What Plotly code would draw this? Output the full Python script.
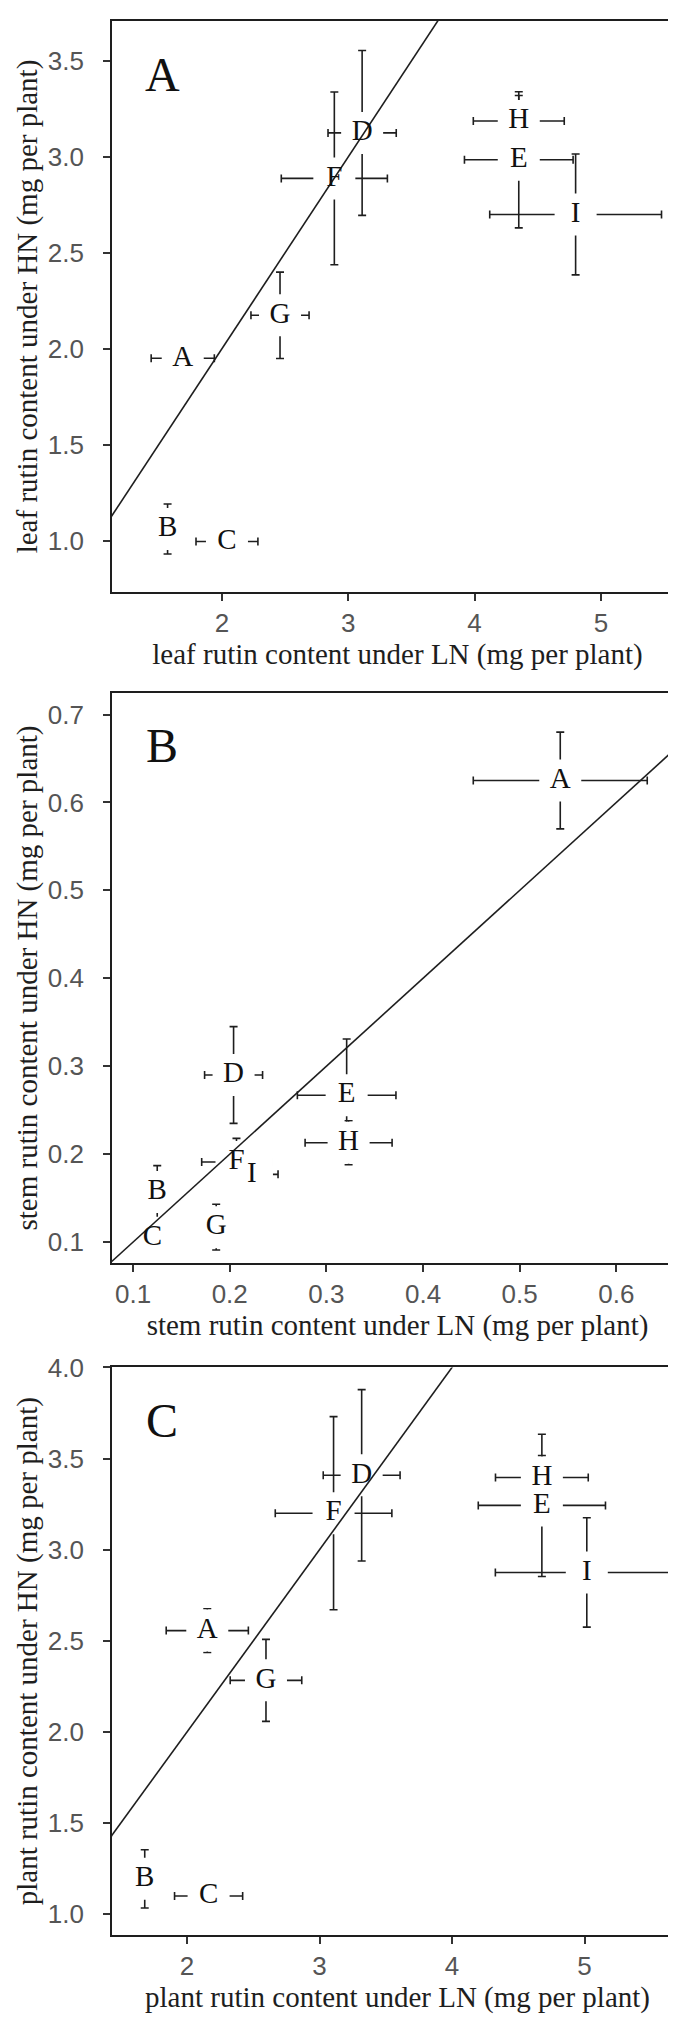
import plotly.graph_objects as go

# ---------------- data ----------------
genotypes = ["A", "B", "C", "D", "E", "F", "G", "H", "I"]

# Panel A: leaf rutin content (mg per plant)
leaf_ln = [1.69, 1.57, 2.04, 3.11, 4.35, 2.89, 2.46, 4.35, 4.80]
leaf_ln_err = [0.25, 0.05, 0.245, 0.27, 0.43, 0.42, 0.23, 0.36, 0.68]
leaf_hn = [1.95, 1.06, 0.995, 3.125, 2.985, 2.888, 2.174, 3.187, 2.70]
leaf_hn_err = [0.10, 0.13, 0.10, 0.43, 0.355, 0.45, 0.225, 0.133, 0.315]

# Panel B: stem rutin content (mg per plant)
stem_ln = [0.542, 0.125, 0.12, 0.204, 0.321, 0.207, 0.186, 0.323, 0.223]
stem_ln_err = [0.09, 0.012, 0.013, 0.03, 0.051, 0.036, 0.01, 0.045, 0.027]
stem_hn = [0.625, 0.157, 0.105, 0.29, 0.267, 0.191, 0.117, 0.213, 0.177]
stem_hn_err = [0.055, 0.03, 0.02, 0.055, 0.064, 0.027, 0.026, 0.025, 0.015]

# Panel C: plant rutin content (mg per plant)
plant_ln = [2.153, 1.681, 2.163, 3.318, 4.678, 3.106, 2.596, 4.678, 5.017]
plant_ln_err = [0.31, 0.05, 0.257, 0.29, 0.48, 0.44, 0.27, 0.35, 0.69]
plant_hn = [2.556, 1.194, 1.10, 3.408, 3.243, 3.20, 2.283, 3.396, 2.875]
plant_hn_err = [0.12, 0.16, 0.10, 0.47, 0.39, 0.53, 0.225, 0.12, 0.30]

# 1:1 reference line
one_to_one = [0, 10]

panel_labels = ["A", "B", "C"]
x_titles = ["leaf rutin content under LN (mg per plant)",
            "stem rutin content under LN (mg per plant)",
            "plant rutin content under LN (mg per plant)"]
y_titles = ["leaf rutin content under HN (mg per plant)",
            "stem rutin content under HN (mg per plant)",
            "plant rutin content under HN (mg per plant)"]
x_ticks = [[2, 3, 4, 5], [0.1, 0.2, 0.3, 0.4, 0.5, 0.6], [2, 3, 4, 5]]
y_ticks = [[1.0, 1.5, 2.0, 2.5, 3.0, 3.5],
           [0.1, 0.2, 0.3, 0.4, 0.5, 0.6, 0.7],
           [1.0, 1.5, 2.0, 2.5, 3.0, 3.5, 4.0]]
x_ranges = [[1.13, 5.65], [0.0782, 0.669], [1.434, 5.743]]
y_ranges = [[0.7315, 3.7085], [0.0762, 0.7245], [0.886, 4.0]]
x_fmt = ["d", ".1f", "d"]

panels = [
    (leaf_ln, leaf_ln_err, leaf_hn, leaf_hn_err),
    (stem_ln, stem_ln_err, stem_hn, stem_hn_err),
    (plant_ln, plant_ln_err, plant_hn, plant_hn_err),
]

# ---------------- styling ----------------
SERIF = "Liberation Serif"
SANS = "Liberation Sans"
INK = "#1e1e1e"
TICKCOL = "#555555"

W, H = 676, 2021
TOP, BOT, LEFT, RIGHT = 13, 94, 104, 1
ph = H - TOP - BOT
# panel pixel bounds (top, bottom)
pix = [(13, 584), (685, 1255), (1359.4, 1927)]
domains = [[1 - (b - TOP) / ph, 1 - (t - TOP) / ph] for t, b in pix]

fig = go.Figure()

for i, (xl, xle, yh, yhe) in enumerate(panels):
    xa = "x" if i == 0 else f"x{i+1}"
    ya = "y" if i == 0 else f"y{i+1}"
    # error bars
    fig.add_trace(go.Scatter(
        x=xl, y=yh, mode="markers", xaxis=xa, yaxis=ya,
        marker=dict(size=1, color="rgba(0,0,0,0)"),
        error_x=dict(type="data", array=xle, visible=True, color=INK,
                     thickness=1.6, width=4),
        error_y=dict(type="data", array=yhe, visible=True, color=INK,
                     thickness=1.6, width=4),
        showlegend=False, hoverinfo="skip"))
    # white label boxes
    fig.add_trace(go.Scatter(
        x=xl, y=yh, mode="markers", xaxis=xa, yaxis=ya,
        marker=dict(symbol="square", size=42, color="white",
                    line=dict(width=0)),
        showlegend=False, hoverinfo="skip"))
    # 1:1 line
    fig.add_trace(go.Scatter(
        x=one_to_one, y=one_to_one, mode="lines", xaxis=xa, yaxis=ya,
        line=dict(color=INK, width=1.6),
        showlegend=False, hoverinfo="skip"))
    # letters
    fig.add_trace(go.Scatter(
        x=xl, y=yh, mode="text", text=genotypes, xaxis=xa, yaxis=ya,
        textposition="middle center",
        textfont=dict(family=SERIF, size=29, color="#111111"),
        showlegend=False, hoverinfo="skip"))

    axis_common = dict(
        showline=True, mirror=True, linecolor=INK, linewidth=1.6,
        ticks="outside", ticklen=7, tickwidth=1.5, tickcolor="#333333",
        showgrid=False, zeroline=False,
        tickfont=dict(family=SANS, size=26, color=TICKCOL),
        automargin=False,
    )
    xkey = "xaxis" if i == 0 else f"xaxis{i+1}"
    ykey = "yaxis" if i == 0 else f"yaxis{i+1}"
    fig.update_layout(**{
        xkey: dict(axis_common, domain=[0, 1], anchor=ya,
                   range=x_ranges[i], tickvals=x_ticks[i],
                   tickformat=x_fmt[i],
                   title=dict(text=x_titles[i], standoff=6,
                              font=dict(family=SERIF, size=29, color=INK))),
        ykey: dict(axis_common, domain=domains[i], anchor=xa,
                   range=y_ranges[i], tickvals=y_ticks[i],
                   tickformat=".1f", ticklabelstandoff=14,
                   title=dict(text=y_titles[i], standoff=2,
                              font=dict(family=SERIF, size=29, color=INK))),
    })
    fig.add_annotation(
        text=panel_labels[i], showarrow=False,
        xref=f"{xa} domain", yref=f"{ya} domain",
        x=50 / 571, y=1 - 53 / 571, xanchor="center", yanchor="middle",
        font=dict(family=SERIF, size=48, color="#111111"))

fig.update_layout(
    width=W, height=H,
    margin=dict(l=LEFT, r=RIGHT, t=TOP, b=BOT),
    paper_bgcolor="white", plot_bgcolor="white",
    showlegend=False,
)

fig.write_html("out.html")
